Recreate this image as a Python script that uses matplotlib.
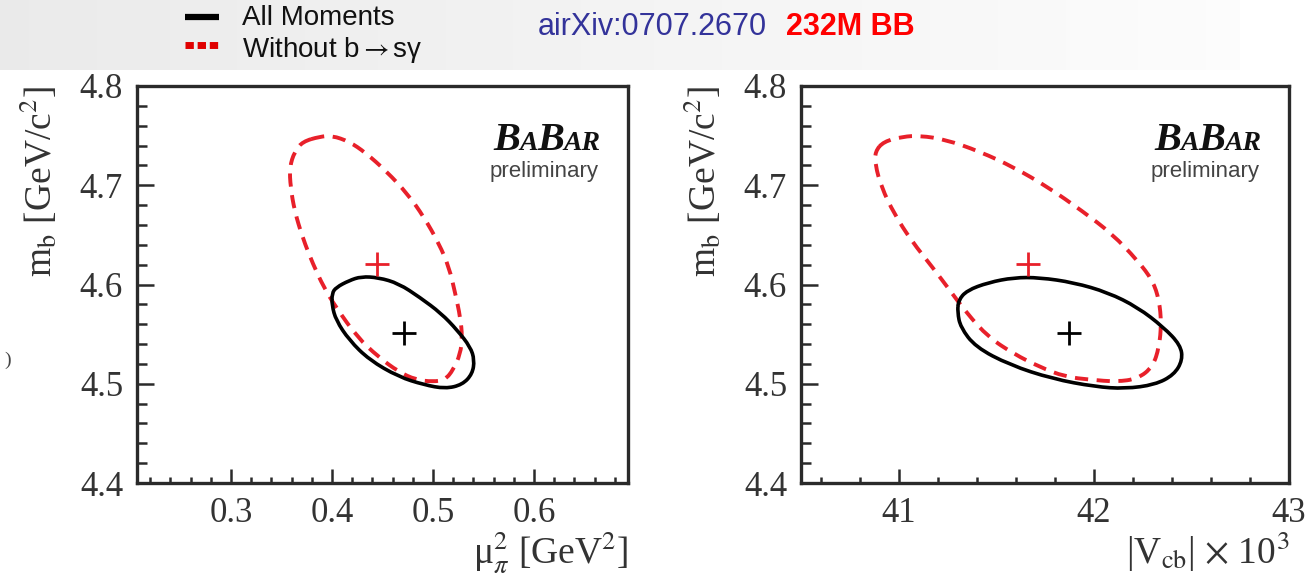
import numpy as np
import matplotlib.pyplot as plt
from matplotlib.path import Path
from matplotlib.patches import PathPatch
from matplotlib.ticker import MultipleLocator

# ---------- contours (1 sigma) : points de contrôle ----------
# panneau gauche : mu_pi^2 vs m_b
mu_all = [0.400, 0.404, 0.417, 0.429, 0.446, 0.466, 0.487, 0.508, 0.524, 0.537,
          0.541, 0.539, 0.529, 0.512, 0.491, 0.466, 0.437, 0.417, 0.404, 0.400]
mb_all_l = [4.591, 4.597, 4.604, 4.608, 4.607, 4.601, 4.587, 4.571, 4.554, 4.537,
            4.524, 4.510, 4.499, 4.495, 4.499, 4.507, 4.524, 4.544, 4.564, 4.579]
mu_nobsg = [0.388, 0.400, 0.417, 0.433, 0.454, 0.475, 0.491, 0.506, 0.516, 0.522,
            0.527, 0.529, 0.527, 0.520, 0.512, 0.500, 0.483, 0.466, 0.446, 0.425,
            0.404, 0.392, 0.381, 0.371, 0.363, 0.359, 0.358, 0.363, 0.371]
mb_nobsg_l = [4.749, 4.750, 4.744, 4.733, 4.714, 4.691, 4.668, 4.641, 4.617, 4.591,
              4.567, 4.547, 4.530, 4.514, 4.504, 4.502, 4.504, 4.512, 4.527, 4.547,
              4.577, 4.597, 4.621, 4.647, 4.674, 4.698, 4.718, 4.734, 4.744]

# panneau droit : |Vcb| x 10^3 vs m_b
vcb_all = [41.306, 41.350, 41.460, 41.591, 41.722, 41.897, 42.072, 42.225, 42.357, 42.444,
           42.455, 42.411, 42.313, 42.160, 42.007, 41.788, 41.569, 41.394, 41.317, 41.302]
mb_all_r = [4.584, 4.594, 4.602, 4.607, 4.607, 4.602, 4.592, 4.577, 4.557, 4.539,
            4.524, 4.509, 4.499, 4.495, 4.497, 4.505, 4.519, 4.537, 4.557, 4.572]
vcb_nobsg = [40.923, 41.022, 41.109, 41.241, 41.416, 41.591, 41.766, 41.941, 42.094, 42.225,
             42.302, 42.335, 42.346, 42.335, 42.302, 42.225, 42.116, 41.985, 41.853, 41.722,
             41.591, 41.460, 41.350, 41.263, 41.175, 41.066, 40.978, 40.912, 40.880, 40.880]
mb_nobsg_r = [4.744, 4.749, 4.750, 4.746, 4.734, 4.718, 4.698, 4.674, 4.651, 4.624,
              4.604, 4.584, 4.561, 4.537, 4.517, 4.505, 4.502, 4.504, 4.507, 4.517,
              4.530, 4.547, 4.571, 4.594, 4.617, 4.644, 4.671, 4.698, 4.721, 4.734]

# valeurs centrales (x, m_b)
best_all_l = (0.471, 4.551)
best_nobsg_l = (0.445, 4.621)
best_all_r = (41.875, 4.551)
best_nobsg_r = (41.663, 4.621)

RED = "#e8202a"
INK = "#2a2a2a"
SERIF = "Liberation Serif"
SANS = "Liberation Sans"

plt.rcParams["mathtext.fontset"] = "stix"


def contour_path(xs, ys):
    """Courbe fermée lissée (B-spline quadratique) sur les points de contrôle."""
    pts = np.column_stack([xs, ys])
    mids = 0.5 * (pts + np.roll(pts, -1, axis=0))
    verts = [mids[-1]]
    codes = [Path.MOVETO]
    for p, m in zip(pts, mids):
        verts += [p, m]
        codes += [Path.CURVE3, Path.CURVE3]
    return Path(verts, codes)


def draw_contour(ax, xs, ys, **kw):
    ax.add_patch(PathPatch(contour_path(xs, ys), fill=False, **kw))


def style_axes(ax, xmaj, xmin):
    ax.set_ylim(4.4, 4.8)
    ax.yaxis.set_major_locator(MultipleLocator(0.1))
    ax.yaxis.set_minor_locator(MultipleLocator(0.02))
    ax.xaxis.set_major_locator(MultipleLocator(xmaj))
    ax.xaxis.set_minor_locator(MultipleLocator(xmin))
    ax.tick_params(which="both", direction="in", top=False, right=False,
                   colors=INK, width=1.8)
    ax.tick_params(which="major", labelsize=25)
    ax.tick_params(axis="y", which="major", length=12, pad=10)
    ax.tick_params(axis="y", which="minor", length=7)
    ax.tick_params(axis="x", which="major", length=10, pad=10)
    ax.tick_params(axis="x", which="minor", length=4)
    for lab in ax.get_xticklabels() + ax.get_yticklabels():
        lab.set_family(SERIF)
        lab.set_color("#333333")
    for sp in ax.spines.values():
        sp.set_linewidth(2.4)
        sp.set_color(INK)
    ax.set_ylabel(r"m$_\mathrm{b}$ [GeV/c$^2$]", fontsize=27, family=SERIF,
                  color="#333333", loc="top", labelpad=14)
    ax.text(0.94, 0.77, "preliminary", transform=ax.transAxes, ha="right",
            va="baseline", fontsize=16, family=SANS, color="#444444")


def babar(fig, ax, x_right, y_base):
    # BABAR en petites capitales, aligné à droite
    parts = [("B", 29), ("A", 20), ("B", 29), ("AR", 20)]
    fig.canvas.draw()
    r = fig.canvas.get_renderer()
    inv = ax.transAxes.inverted()
    texts, widths = [], []
    for ch, fs in parts:
        t = ax.text(0, y_base, ch, transform=ax.transAxes, fontsize=fs,
                    family=SERIF, weight="bold", style="italic",
                    color="#111111", ha="left", va="baseline")
        bb = t.get_window_extent(renderer=r)
        widths.append((inv.transform((bb.x1, 0))[0] - inv.transform((bb.x0, 0))[0]) * 0.96)
        texts.append(t)
    x = x_right - sum(widths)
    for t, w in zip(texts, widths):
        t.set_x(x)
        x += w


fig = plt.figure(figsize=(13.13, 5.75), dpi=100)

# bandeau gris clair en haut
bg = fig.add_axes([0, 1 - 70 / 575, 1240 / 1313, 70 / 575], zorder=-5)
grad = np.linspace(0.92, 0.99, 256)[None, :]
bg.imshow(np.dstack([grad, grad, grad]), aspect="auto", extent=[0, 1, 0, 1])
bg.axis("off")

ax1 = fig.add_axes([137 / 1313, 1 - 483 / 575, 491 / 1313, 397 / 575])
ax2 = fig.add_axes([801 / 1313, 1 - 483 / 575, 488 / 1313, 397 / 575])

# panneau gauche
draw_contour(ax1, mu_nobsg, mb_nobsg_l, edgecolor=RED, lw=2.8, ls=(0, (3.4, 2.2)))
draw_contour(ax1, mu_all, mb_all_l, edgecolor="black", lw=2.6)
ax1.plot(*best_all_l, marker="+", ms=17, mew=2.0, color="black")
ax1.plot(*best_nobsg_l, marker="+", ms=17, mew=2.0, color=RED)
ax1.set_xlim(0.207, 0.693)
style_axes(ax1, 0.1, 0.02)
ax1.set_xlabel("\u03bc$^2_\\pi$ [GeV$^2$]", fontsize=27, family=SERIF,
               color="#333333", loc="right", labelpad=0)

# panneau droit
draw_contour(ax2, vcb_nobsg, mb_nobsg_r, edgecolor=RED, lw=2.8, ls=(0, (3.4, 2.2)))
draw_contour(ax2, vcb_all, mb_all_r, edgecolor="black", lw=2.6)
ax2.plot(*best_all_r, marker="+", ms=17, mew=2.0, color="black")
ax2.plot(*best_nobsg_r, marker="+", ms=17, mew=2.0, color=RED)
ax2.set_xlim(40.5, 43.0)
style_axes(ax2, 1.0, 0.2)
ax2.set_xlabel(r"|V$_\mathrm{cb}$| $\times$ 10$^3$", fontsize=27, family=SERIF,
               color="#333333", loc="right", labelpad=0)

for ax in (ax1, ax2):
    babar(fig, ax, 0.94, 0.84)

# légende et référence en haut
fig.add_artist(plt.Line2D([185 / 1313, 219 / 1313], [1 - 17 / 575] * 2,
                          color="black", lw=4.5, solid_capstyle="butt"))
fig.add_artist(plt.Line2D([185 / 1313, 219 / 1313], [1 - 45 / 575] * 2,
                          color="#e00000", lw=5, ls=(0, (1.2, 0.55))))
fig.text(242 / 1313, 1 - 18 / 575, "All Moments", fontsize=20, family=SANS,
         va="center", ha="left", color="#111111")
fig.text(242 / 1313, 1 - 50 / 575, "Without b$\\rightarrow$s\u03b3", fontsize=20,
         family=SANS, va="center", ha="left", color="#111111")
fig.text(538 / 1313, 1 - 27 / 575, "airXiv:0707.2670", fontsize=22, family=SANS,
         va="center", ha="left", color="#33339a")
fig.text(786 / 1313, 1 - 27 / 575, "232M BB", fontsize=22, family=SANS,
         weight="bold", va="center", ha="left", color="#ff0000")
fig.text(4 / 1313, 1 - 360 / 575, ")", fontsize=14, family=SERIF,
         va="center", ha="left", color="#444444")

fig.savefig("out.png", dpi=100)
